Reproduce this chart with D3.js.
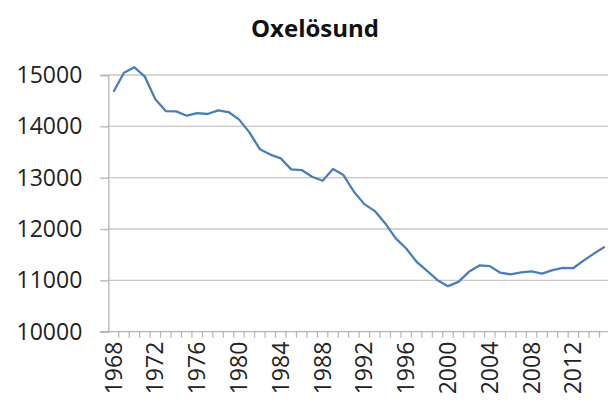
<!DOCTYPE html>
<html>
<head>
<meta charset="utf-8">
<script src="https://cdn.jsdelivr.net/npm/d3@7"></script>
<style>
  html, body { margin: 0; padding: 0; background: #fff; overflow: hidden; }
  svg { display: block; }
</style>
</head>
<body>
<svg id="chart" width="608" height="403"></svg>
<script>
const title = "Oxelösund";
const years = [1968,1969,1970,1971,1972,1973,1974,1975,1976,1977,1978,1979,1980,1981,1982,1983,1984,1985,1986,1987,1988,1989,1990,1991,1992,1993,1994,1995,1996,1997,1998,1999,2000,2001,2002,2003,2004,2005,2006,2007,2008,2009,2010,2011,2012,2013,2014,2015];
const population = [14675,15045,15150,14967,14526,14298,14292,14207,14259,14240,14312,14279,14136,13883,13555,13450,13376,13161,13148,13018,12940,13168,13051,12726,12485,12349,12109,11817,11620,11361,11186,11004,10887,10971,11166,11290,11277,11150,11117,11156,11175,11130,11199,11244,11240,11390,11525,11654];
const yTicks = [10000,11000,12000,13000,14000,15000];
const yearLabels = [1968,1972,1976,1980,1984,1988,1992,1996,2000,2004,2008,2012];

(function () {
const svg = d3.select("#chart");
const mLeft = 108.3, mRight = 610, mTop = 75, mBottom = 331.7;

const x = d3.scaleBand().domain(years).range([mLeft, mRight]).padding(0);
const y = d3.scaleLinear().domain([10000, 15000]).range([mBottom, mTop]);

// gridlines
svg.append("g").selectAll("line").data(yTicks.filter(d => d > 10000)).join("line")
  .attr("x1", mLeft).attr("x2", 608)
  .attr("y1", d => y(d)).attr("y2", d => y(d))
  .attr("stroke", "#c8c8c8").attr("stroke-width", 1.3);

// y axis
const yAxis = d3.axisLeft(y).tickValues(yTicks).tickSize(8).tickPadding(18).tickFormat(d3.format("d"));
const gy = svg.append("g").attr("transform", `translate(${mLeft},0)`).call(yAxis);
gy.select(".domain").attr("stroke", "#b5b5b5").attr("stroke-width", 1.3);
gy.selectAll(".tick line").attr("stroke", "#b5b5b5").attr("stroke-width", 1.3);
gy.selectAll(".tick text")
  .attr("font-family", "'Open Sans', sans-serif").attr("font-size", 23).attr("fill", "#222");

// x axis (ticks between categories)
const gx = svg.append("g");
gx.append("line").attr("x1", mLeft - 8).attr("x2", 608).attr("y1", mBottom).attr("y2", mBottom)
  .attr("stroke", "#b5b5b5").attr("stroke-width", 1.3);
gx.selectAll("line.tk").data(years).join("line").attr("class", "tk")
  .attr("x1", d => x(d) + x.bandwidth()).attr("x2", d => x(d) + x.bandwidth())
  .attr("y1", mBottom).attr("y2", mBottom + 6)
  .attr("stroke", "#b5b5b5").attr("stroke-width", 1.2);
gx.selectAll("text").data(yearLabels).join("text")
  .attr("transform", d => `translate(${x(d) + x.bandwidth() / 2},${mBottom + 10}) rotate(-90)`)
  .attr("text-anchor", "end").attr("dy", "0.35em")
  .attr("font-family", "'Open Sans', sans-serif").attr("font-size", 23).attr("fill", "#222")
  .text(d => d);

// line
const line = d3.line().x((d, i) => x(years[i]) + x.bandwidth() / 2).y(d => y(d));
svg.append("path").datum(population)
  .attr("d", line).attr("fill", "none")
  .attr("stroke", "#4a7ebb").attr("stroke-width", 2.3).attr("stroke-linejoin", "round");

// title
svg.append("text").attr("x", 315).attr("y", 37).attr("text-anchor", "middle")
  .attr("font-family", "'Open Sans', sans-serif").attr("font-weight", "bold").attr("font-size", 24)
  .attr("fill", "#111").text(title);
})();
</script>
</body>
</html>
